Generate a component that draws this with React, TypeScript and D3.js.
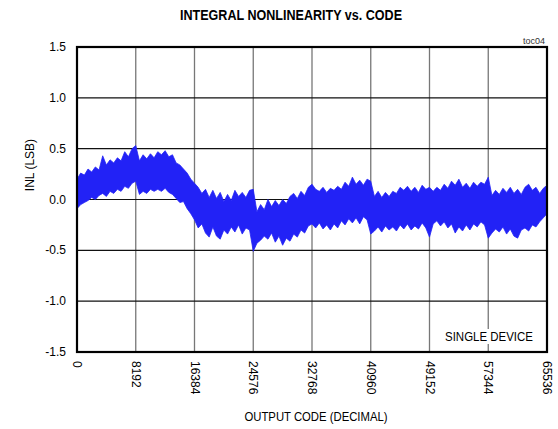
import * as d3 from "d3";

const STEP = 512;
const inlUpper = [
  0.20, 0.26, 0.24, 0.30, 0.27, 0.32, 0.29, 0.43, 0.34, 0.39, 0.36, 0.41, 0.38, 0.47, 0.42, 0.50,
  0.53, 0.38, 0.44, 0.40, 0.45, 0.41, 0.47, 0.44, 0.48, 0.42, 0.44, 0.36, 0.34, 0.30, 0.26, 0.20,
  0.16, 0.12, 0.06, 0.10, 0.02, 0.09, 0.01, 0.07, -0.02, 0.05, -0.01, 0.09, 0.03, 0.07, 0.02, 0.09,
  0.10, -0.12, -0.05, -0.10, 0.00, -0.07, -0.01, -0.06, 0.00, -0.04, 0.03, 0.06, 0.01, 0.08, 0.04, 0.12,
  0.15, 0.10, 0.08, 0.12, 0.07, 0.11, 0.09, 0.13, 0.10, 0.17, 0.13, 0.22, 0.15, 0.19, 0.14, 0.20,
  0.18, 0.03, 0.08, 0.02, 0.07, 0.03, 0.08, 0.06, 0.12, 0.09, 0.13, 0.08, 0.12, 0.07, 0.14, 0.10,
  0.12, 0.08, 0.12, 0.09, 0.15, 0.11, 0.18, 0.14, 0.20, 0.12, 0.16, 0.11, 0.17, 0.13, 0.17, 0.15,
  0.22, 0.04, 0.09, 0.05, 0.11, 0.07, 0.12, 0.06, 0.10, 0.05, 0.12, 0.15, 0.09, 0.12, 0.06, 0.11,
  0.14,
];
const inlLower = [
  -0.09, -0.05, -0.03, -0.01, 0.02, 0.00, 0.04, 0.06, 0.03, 0.08, 0.06, 0.10, 0.08, 0.13, 0.11, 0.16,
  0.18, 0.05, 0.08, 0.06, 0.10, 0.08, 0.10, 0.08, 0.11, 0.07, 0.05, 0.01, -0.03, -0.02, -0.09, -0.14,
  -0.20, -0.28, -0.24, -0.33, -0.37, -0.27, -0.36, -0.39, -0.30, -0.34, -0.27, -0.32, -0.25, -0.34, -0.28, -0.30,
  -0.51, -0.43, -0.40, -0.36, -0.39, -0.33, -0.42, -0.36, -0.45, -0.38, -0.41, -0.34, -0.37, -0.30, -0.33, -0.26,
  -0.24, -0.28, -0.23, -0.29, -0.25, -0.30, -0.24, -0.28, -0.21, -0.25, -0.19, -0.23, -0.18, -0.24, -0.17, -0.20,
  -0.34, -0.31, -0.27, -0.32, -0.26, -0.30, -0.27, -0.31, -0.25, -0.29, -0.24, -0.30, -0.26, -0.29, -0.23, -0.28,
  -0.37, -0.24, -0.21, -0.26, -0.22, -0.28, -0.24, -0.33, -0.27, -0.31, -0.25, -0.30, -0.24, -0.27, -0.22, -0.25,
  -0.38, -0.33, -0.29, -0.32, -0.27, -0.34, -0.29, -0.36, -0.38, -0.30, -0.28, -0.31, -0.25, -0.27, -0.22, -0.18,
  -0.14,
];
const xTicks = [0, 8192, 16384, 24576, 32768, 40960, 49152, 57344, 65536];
const yTicks = [-1.5, -1.0, -0.5, 0.0, 0.5, 1.0, 1.5];
const yTickLabels = ["-1.5", "-1.0", "-0.5", "0.0", "0.5", "1.0", "1.5"];

const W = 558;
const H = 429;
const M = { left: 77, right: 11, top: 47, bottom: 77 };
const FONT = "'Liberation Sans', Arial, sans-serif";

export default function App() {
  const x = d3.scaleLinear().domain([0, 65536]).range([M.left, W - M.right]);
  const y = d3.scaleLinear().domain([-1.5, 1.5]).range([H - M.bottom, M.top]);

  const pts = inlUpper.map((u, i) => ({ code: i * STEP, hi: u, lo: inlLower[i] }));
  const band = d3.area<{ code: number; hi: number; lo: number }>()
    .x(d => x(d.code))
    .y0(d => y(d.lo))
    .y1(d => y(d.hi))
    .curve(d3.curveLinear)(pts);

  const x0 = x.range()[0], x1 = x.range()[1];
  const y0 = y.range()[1], y1 = y.range()[0];

  return (
    <svg width={W} height={H} style={{ position: "absolute", left: 0, top: 0 }} fontFamily={FONT}>
      <rect width={W} height={H} fill="#fff" />
      <text x={291} y={20} textAnchor="middle" fontSize={14} fontWeight="bold"
        textLength={222} lengthAdjust="spacingAndGlyphs">INTEGRAL NONLINEARITY vs. CODE</text>
      <text x={545} y={44} textAnchor="end" fontSize={9} fill="#333">toc04</text>

      {xTicks.slice(1, -1).map(t => (
        <line key={"gx" + t} x1={x(t)} x2={x(t)} y1={y0} y2={y1} stroke="#777" strokeWidth={1.3} />
      ))}
      {yTicks.slice(1, -1).map(t => (
        <line key={"gy" + t} x1={x0} x2={x1} y1={y(t)} y2={y(t)} stroke="#111" strokeWidth={1.1} />
      ))}

      <path d={band ?? ""} fill="#2222f6" stroke="#2222f6" strokeWidth={0.8} />

      <rect x={444} y={329} width={92} height={15} fill="#fff" />
      <text x={489} y={336.5} textAnchor="middle" dominantBaseline="central" fontSize={12}
        textLength={88} lengthAdjust="spacingAndGlyphs">SINGLE DEVICE</text>

      <rect x={x0} y={y0} width={x1 - x0} height={y1 - y0} fill="none" stroke="#000" strokeWidth={2.2} />

      {yTicks.map((t, i) => (
        <text key={"ty" + t} x={66} y={y(t)} textAnchor="end" dominantBaseline="central" fontSize={12}>
          {yTickLabels[i]}
        </text>
      ))}
      {xTicks.map(t => (
        <text key={"tx" + t} transform={`translate(${x(t)},${y1 + 9}) rotate(90)`}
          dominantBaseline="central" fontSize={12}>{t}</text>
      ))}

      <text transform={`translate(30,165) rotate(-90)`} textAnchor="middle" dominantBaseline="central" fontSize={12}>
        INL (LSB)
      </text>
      <text x={316} y={417} textAnchor="middle" dominantBaseline="central" fontSize={12}
        textLength={143} lengthAdjust="spacingAndGlyphs">
        OUTPUT CODE (DECIMAL)
      </text>
    </svg>
  );
}
